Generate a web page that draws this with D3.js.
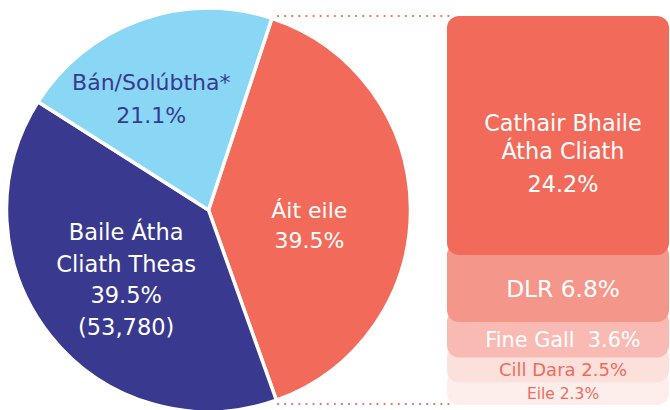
<!DOCTYPE html>
<html><head><meta charset="utf-8">
<script src="https://cdn.jsdelivr.net/npm/d3@7"></script>
<style>html,body{margin:0;padding:0;background:#fff;} svg{display:block;} text{white-space:pre;}</style>
</head><body>
<svg id="c" width="670" height="410"></svg>
<script>
const pieLabels = [["Áit eile","39.5%"],["Baile Átha","Cliath Theas","39.5%","(53,780)"],["Bán/Solúbtha*","21.1%"]];
const pieValues = [39.5, 39.5, 21.1];
const pieColors = ["#F26B5A", "#393A8F", "#8AD6F5"];
const pieTextColors = ["#ffffff", "#ffffff", "#393A8F"];

const stackLabels = [["Cathair Bhaile","Átha Cliath","24.2%"],["DLR 6.8%"],["Fine Gall  3.6%"],["Cill Dara 2.5%"],["Eile 2.3%"]];
const stackValues = [24.2, 6.8, 3.6, 2.5, 2.3];
const stackColors = ["#F26B5A", "#F5968A", "#F8BAB2", "#FCE0DC", "#FDEEEB"];
const stackTextColors = ["#ffffff", "#ffffff", "#ffffff", "#F26B5A", "#F26B5A"];

const svg = d3.select("#c");
const font = "'DejaVu Sans', sans-serif";
const cx = 208.5, cy = 210, R = 202;
const startAngle = 18.3 * Math.PI / 180;

const pie = d3.pie().sort(null).value(d => d)
  .startAngle(startAngle).endAngle(startAngle + 2 * Math.PI);
const arcs = pie(pieValues);
const arc = d3.arc().innerRadius(0).outerRadius(R);

const g = svg.append("g").attr("transform", `translate(${cx},${cy})`);
g.selectAll("path").data(arcs).join("path")
  .attr("d", arc).attr("fill", (d, i) => pieColors[i])
  .attr("stroke", "#fff").attr("stroke-width", 3.5).attr("stroke-linejoin", "round");

// pie labels
const labelR = [102, 108, 125];
const labelAngleShift = [9.3, -1.7, -7.6];
const fsPie = [22, 22.5, 22];
const lhPie = [30.5, 31.5, 33];
arcs.forEach((a, i) => {
  const ang = (a.startAngle + a.endAngle) / 2 + labelAngleShift[i] * Math.PI / 180;
  const x = Math.sin(ang) * labelR[i];
  const y = -Math.cos(ang) * labelR[i];
  const lines = pieLabels[i];
  const t = g.append("text").attr("text-anchor", "middle")
    .attr("font-family", font).attr("font-size", fsPie[i])
    .attr("fill", pieTextColors[i]);
  lines.forEach((l, j) => {
    t.append("tspan").attr("x", x)
      .attr("y", y + (j - (lines.length - 1) / 2) * lhPie[i])
      .attr("dy", "0.35em").text(l);
  });
});

// stack
const total = d3.sum(stackValues);
const y = d3.scaleLinear().domain([0, total]).range([16, 405]);
const x0 = 447, x1 = 669, rr = 12;
let cum = 0;
const segs = stackValues.map((v, i) => { const s = { i, start: cum, end: cum + v }; cum += v; return s; });

const sg = svg.append("g");
sg.selectAll("rect").data(segs.slice().reverse()).join("rect")
  .attr("x", x0).attr("width", x1 - x0)
  .attr("y", d => d.i === 0 ? y(d.start) : y(d.start) - rr)
  .attr("height", d => d.i === 0 ? y(d.end) - y(d.start) : y(d.end) - y(d.start) + rr)
  .attr("rx", rr).attr("ry", rr)
  .attr("fill", d => stackColors[d.i]);

const fsStack = [22.3, 23.3, 20.8, 18, 15.5];
const tx = 563;
segs.forEach(s => {
  const lines = stackLabels[s.i];
  const t = sg.append("text").attr("text-anchor", "middle")
    .attr("font-family", font).attr("font-size", fsStack[s.i])
    .attr("fill", stackTextColors[s.i]);
  if (lines.length > 1) {
    const top = y(s.start);
    const offs = [107, 135, 168];
    lines.forEach((l, j) => t.append("tspan").attr("x", tx).attr("y", top + offs[j]).attr("dy", "0.35em").text(l));
  } else {
    t.append("tspan").attr("x", tx).attr("y", (y(s.start) + y(s.end)) / 2).attr("dy", "0.35em").text(lines[0]);
  }
});

// dotted connector lines
const dotted = [y(0), y(total) - 1];
svg.selectAll("line.dot").data(dotted).join("line").attr("class", "dot")
  .attr("x1", 278).attr("x2", x0 + 2).attr("y1", d => d).attr("y2", d => d)
  .attr("stroke", "#F26B5A").attr("stroke-width", 2.2)
  .attr("stroke-linecap", "round").attr("stroke-dasharray", "0.1,7");
</script>
</body></html>
